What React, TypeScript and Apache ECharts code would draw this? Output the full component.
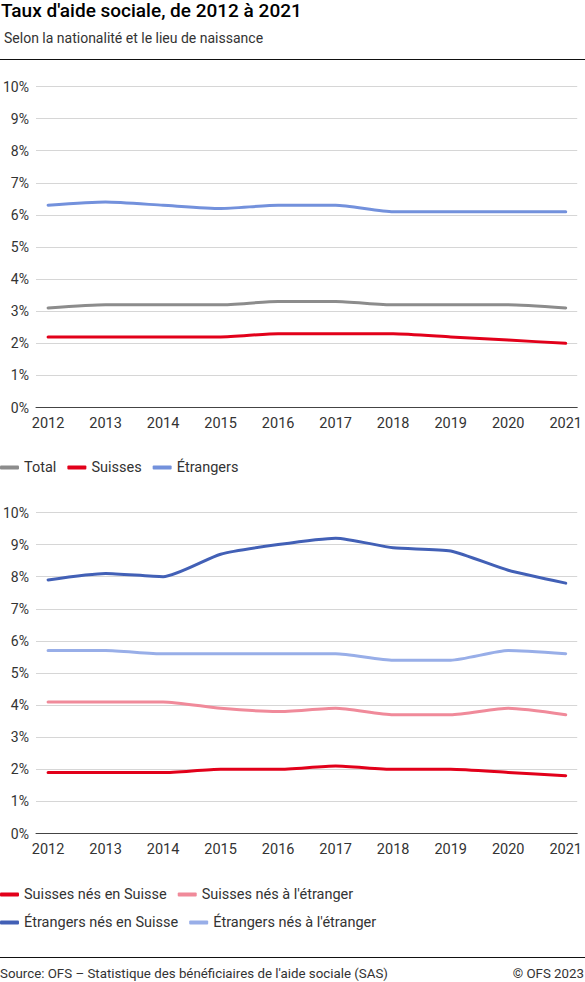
import { useEffect, useRef } from 'react'
import * as echarts from 'echarts'

const YEARS = [2012, 2013, 2014, 2015, 2016, 2017, 2018, 2019, 2020, 2021]

// top chart: by nationality
const TOTAL = [3.1, 3.2, 3.2, 3.2, 3.3, 3.3, 3.2, 3.2, 3.2, 3.1]
const SUISSES = [2.2, 2.2, 2.2, 2.2, 2.3, 2.3, 2.3, 2.2, 2.1, 2.0]
const ETRANGERS = [6.3, 6.4, 6.3, 6.2, 6.3, 6.3, 6.1, 6.1, 6.1, 6.1]

// bottom chart: by nationality and place of birth
const SUISSES_CH = [1.9, 1.9, 1.9, 2.0, 2.0, 2.1, 2.0, 2.0, 1.9, 1.8]
const SUISSES_ETR = [4.1, 4.1, 4.1, 3.9, 3.8, 3.9, 3.7, 3.7, 3.9, 3.7]
const ETRANGERS_CH = [7.9, 8.1, 8.0, 8.7, 9.0, 9.2, 8.9, 8.8, 8.2, 7.8]
const ETRANGERS_ETR = [5.7, 5.7, 5.6, 5.6, 5.6, 5.6, 5.4, 5.4, 5.7, 5.6]

const FONT = 'Roboto, "Noto Sans", sans-serif'
const TEXT = '#333333'

const pairs = (values: number[]) => YEARS.map((y, i) => [y, values[i]])

function xAxis(gridIndex: number) {
  return {
    type: 'value',
    gridIndex,
    min: 2011.79,
    max: 2021.2,
    axisLine: { show: true, onZero: false, lineStyle: { color: '#444', width: 1 } },
    axisTick: { show: false },
    splitLine: { show: false },
    axisLabel: {
      customValues: YEARS,
      formatter: (v: number) => String(v),
      fontSize: 14.5,
      color: TEXT,
      fontFamily: FONT,
      margin: 8,
    },
  }
}

function yAxis(gridIndex: number) {
  return {
    type: 'value',
    gridIndex,
    min: 0,
    max: 10,
    interval: 1,
    axisLine: { show: false },
    axisTick: { show: false },
    splitLine: { lineStyle: { color: '#d6d6d6', width: 1 } },
    axisLabel: { formatter: '{value}%', fontSize: 14, color: TEXT, fontFamily: FONT, margin: 7 },
  }
}

function line(name: string, values: number[], color: string, idx: number) {
  return {
    type: 'line',
    name,
    xAxisIndex: idx,
    yAxisIndex: idx,
    data: pairs(values),
    symbol: 'none',
    smooth: 0.2,
    lineStyle: { color, width: 3, cap: 'round' },
    itemStyle: { color },
  }
}

const legendBase = {
  left: 0,
  itemWidth: 19,
  itemHeight: 4,
  itemGap: 11,
  icon: 'roundRect',
  padding: 0,
  textStyle: { fontSize: 14.5, color: TEXT, fontFamily: FONT },
}

export default function App() {
  const ref = useRef<HTMLDivElement | null>(null)

  useEffect(() => {
    document.body.style.margin = '0'
    if (!ref.current) return
    const chart = echarts.init(ref.current, null, { renderer: 'svg' })
    chart.setOption({
      animation: false,
      textStyle: { fontFamily: FONT },
      title: [
        {
          text: "Taux d'aide sociale, de 2012 à 2021",
          left: 1,
          top: 1,
          padding: 0,
          textStyle: { fontSize: 19, fontWeight: 500, color: '#000', fontFamily: FONT },
        },
        {
          text: 'Selon la nationalité et le lieu de naissance',
          left: 4,
          top: 31,
          padding: 0,
          textStyle: { fontSize: 14, fontWeight: 'normal', color: TEXT, fontFamily: FONT },
        },
        {
          text: "Source: OFS – Statistique des bénéficiaires de l'aide sociale (SAS)",
          left: 0,
          top: 967,
          padding: 0,
          textStyle: { fontSize: 13.3, fontWeight: 'normal', color: TEXT, fontFamily: FONT },
        },
        {
          text: '© OFS 2023',
          right: 1,
          top: 967,
          padding: 0,
          textStyle: { fontSize: 13.3, fontWeight: 'normal', color: TEXT, fontFamily: FONT },
        },
      ],
      graphic: [
        { type: 'line', shape: { x1: 0, y1: 59.5, x2: 585, y2: 59.5 }, style: { stroke: '#111', lineWidth: 1 } },
        { type: 'line', shape: { x1: 0, y1: 957.5, x2: 585, y2: 957.5 }, style: { stroke: '#111', lineWidth: 1 } },
      ],
      grid: [
        { left: 35, width: 543, top: 86.5, height: 321 },
        { left: 35, width: 543, top: 512.5, height: 321 },
      ],
      xAxis: [xAxis(0), xAxis(1)],
      yAxis: [yAxis(0), yAxis(1)],
      legend: [
        { ...legendBase, top: 460, data: ['Total', 'Suisses', 'Étrangers'] },
        { ...legendBase, top: 887, data: ['Suisses nés en Suisse', "Suisses nés à l'étranger"] },
        { ...legendBase, top: 915, data: ['Étrangers nés en Suisse', "Étrangers nés à l'étranger"] },
      ],
      series: [
        line('Total', TOTAL, '#8c8c8c', 0),
        line('Suisses', SUISSES, '#e2001a', 0),
        line('Étrangers', ETRANGERS, '#7391dc', 0),
        line('Suisses nés en Suisse', SUISSES_CH, '#e2001a', 1),
        line("Suisses nés à l'étranger", SUISSES_ETR, '#f08a9a', 1),
        line('Étrangers nés en Suisse', ETRANGERS_CH, '#4260b6', 1),
        line("Étrangers nés à l'étranger", ETRANGERS_ETR, '#98aee8', 1),
      ],
    })
    return () => chart.dispose()
  }, [])

  return <div ref={ref} style={{ width: 585, height: 982 }} />
}
